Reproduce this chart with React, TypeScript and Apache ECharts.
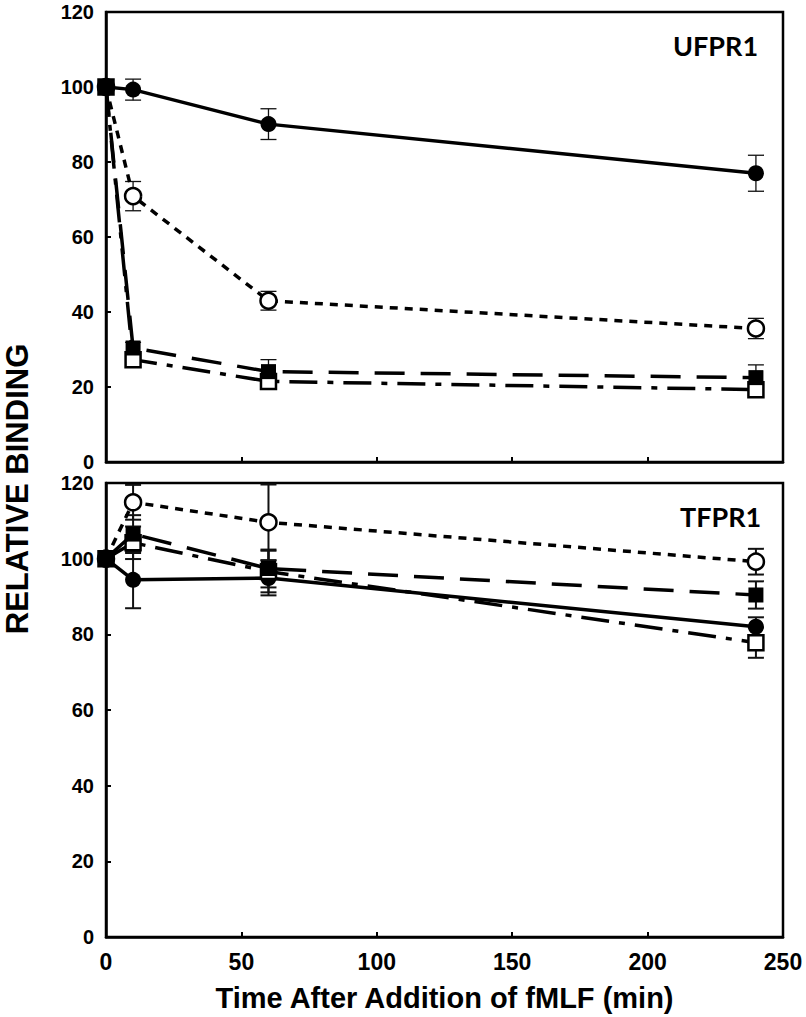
import React, { useEffect, useRef } from "react";
import * as echarts from "echarts";

const times = [0, 10, 60, 240];
const xTicks = [0, 50, 100, 150, 200, 250];
const yTicks = [0, 20, 40, 60, 80, 100, 120];

// UFPR1 panel (top)
const ufprSolid = [100, 99.3, 90.1, 77];
const ufprSolidErr = [0, 2.8, 4.1, 4.8];
const ufprDotted = [100, 70.9, 43, 35.6];
const ufprDottedErr = [0, 3.9, 2.5, 2.7];
const ufprDashed = [100, 30.4, 24.1, 22.5];
const ufprDashedErr = [0, 1.5, 3.2, 3.4];
const ufprDashDot = [100, 27.3, 21.5, 19.3];
const ufprDashDotErr = [0, 1.2, 1.5, 1.5];

// TFPR1 panel (bottom)
const tfprSolid = [100, 94.4, 94.9, 82];
const tfprSolidErr = [0, 7.5, 4.6, 2.5];
const tfprDotted = [100, 114.9, 109.6, 99.2];
const tfprDottedErr = [0, 4.6, 10, 3.4];
const tfprDashed = [100, 106.5, 97.4, 90.4];
const tfprDashedErr = [0, 5, 5, 3.6];
const tfprDashDot = [100, 104.2, 96.6, 77.8];
const tfprDashDotErr = [0, 4.3, 5.5, 4];

const FONT = "Liberation Sans, Arial, sans-serif";

type Style = {
  symbol: string;
  size: number;
  filled: boolean;
  dash: any;
  width: number;
};

const solidStyle: Style = { symbol: "circle", size: 16, filled: true, dash: "solid", width: 3.5 };
const dottedStyle: Style = { symbol: "circle", size: 16, filled: false, dash: [8, 7], width: 3.5 };
const dashedStyle: Style = { symbol: "rect", size: 15, filled: true, dash: [30, 16], width: 3.5 };
const dashDotStyle: Style = { symbol: "rect", size: 15, filled: false, dash: [28, 10, 6, 10], width: 3.5 };

function lineSeries(idx: number, vals: number[], st: Style, z: number) {
  return {
    type: "line",
    xAxisIndex: idx,
    yAxisIndex: idx,
    data: times.map((t, i) => [t, vals[i]]),
    symbol: st.symbol,
    symbolSize: st.size,
    showSymbol: true,
    clip: false,
    z,
    lineStyle: { color: "#000", width: st.width, type: st.dash },
    itemStyle: st.filled
      ? { color: "#000", borderColor: "#000", borderWidth: 0 }
      : { color: "#fff", borderColor: "#000", borderWidth: 2.5 },
    emphasis: { disabled: true },
  };
}

function errSeries(idx: number, vals: number[], errs: number[], lw: number) {
  return {
    type: "custom",
    xAxisIndex: idx,
    yAxisIndex: idx,
    z: 1,
    data: times.map((t, i) => [t, vals[i], errs[i]]),
    renderItem: (params: any, api: any) => {
      const x = api.value(0);
      const y = api.value(1);
      const e = api.value(2);
      if (!e) return null;
      const p = api.coord([x, y + e]);
      const q = api.coord([x, y - e]);
      const hw = 8;
      const style = { stroke: "#111", lineWidth: lw };
      return {
        type: "group",
        children: [
          { type: "line", shape: { x1: p[0], y1: p[1], x2: q[0], y2: q[1] }, style },
          { type: "line", shape: { x1: p[0] - hw, y1: p[1], x2: p[0] + hw, y2: p[1] }, style },
          { type: "line", shape: { x1: q[0] - hw, y1: q[1], x2: q[0] + hw, y2: q[1] }, style },
        ],
      };
    },
  };
}

function xAxis(idx: number, showLabels: boolean) {
  return {
    type: "value",
    gridIndex: idx,
    min: 0,
    max: 250,
    interval: 50,
    splitLine: { show: false },
    axisLine: { show: true, onZero: false, lineStyle: { color: "#000", width: 2.5 } },
    axisTick: { show: true, inside: true, length: 5, lineStyle: { color: "#000", width: 2 } },
    axisLabel: {
      show: showLabels,
      color: "#000",
      fontFamily: FONT,
      fontWeight: "bold",
      fontSize: 23,
      margin: 13,
      formatter: (v: number) => (xTicks.includes(v) ? String(v) : ""),
    },
    ...(showLabels
      ? {
          name: "Time After Addition of fMLF (min)",
          nameLocation: "middle",
          nameGap: 46,
          nameTextStyle: { color: "#000", fontFamily: FONT, fontWeight: "bold", fontSize: 29 },
        }
      : {}),
  };
}

function yAxis(idx: number) {
  return {
    type: "value",
    gridIndex: idx,
    min: 0,
    max: 120,
    interval: 20,
    splitLine: { show: false },
    axisLine: { show: true, onZero: false, lineStyle: { color: "#000", width: 2.5 } },
    axisTick: { show: true, inside: true, length: 5, lineStyle: { color: "#000", width: 2 } },
    axisLabel: {
      color: "#000",
      fontFamily: FONT,
      fontWeight: "bold",
      fontSize: 20,
      margin: 12,
      formatter: (v: number) => (yTicks.includes(v) ? String(v) : ""),
    },
  };
}

export default function App() {
  const ref = useRef<HTMLDivElement>(null);
  useEffect(() => {
    if (!ref.current) return;
    const chart = echarts.init(ref.current, null, { renderer: "svg" });
    chart.setOption({
      animation: false,
      backgroundColor: "#fff",
      grid: [
        { left: 106, right: 23, top: 12, height: 450, show: true, borderColor: "#000", borderWidth: 2.5, backgroundColor: "transparent" },
        { left: 106, right: 23, top: 483, height: 454, show: true, borderColor: "#000", borderWidth: 2.5, backgroundColor: "transparent" },
      ],
      xAxis: [xAxis(0, false), xAxis(1, true)],
      yAxis: [yAxis(0), yAxis(1)],
      graphic: [
        {
          type: "text",
          left: 673,
          top: 32,
          style: { text: "UFPR1", fill: "#000", font: "bold 27px Lato, sans-serif" },
        },
        {
          type: "text",
          left: 680,
          top: 503,
          style: { text: "TFPR1", fill: "#000", font: "bold 27px Lato, sans-serif" },
        },
        {
          type: "text",
          x: 17,
          y: 489,
          rotation: Math.PI / 2,
          style: {
            text: "RELATIVE BINDING",
            fill: "#000",
            font: "bold 31px Liberation Sans, Arial, sans-serif",
            lineHeight: 28,
            align: "center",
            verticalAlign: "middle",
          },
        },
      ],
      series: [
        errSeries(0, ufprSolid, ufprSolidErr, 1.3),
        errSeries(0, ufprDotted, ufprDottedErr, 1.3),
        errSeries(0, ufprDashed, ufprDashedErr, 1.3),
        errSeries(0, ufprDashDot, ufprDashDotErr, 1.3),
        lineSeries(0, ufprSolid, solidStyle, 3),
        lineSeries(0, ufprDotted, dottedStyle, 4),
        lineSeries(0, ufprDashDot, dashDotStyle, 5),
        lineSeries(0, ufprDashed, dashedStyle, 6),
        errSeries(1, tfprSolid, tfprSolidErr, 2),
        errSeries(1, tfprDotted, tfprDottedErr, 2),
        errSeries(1, tfprDashed, tfprDashedErr, 2),
        errSeries(1, tfprDashDot, tfprDashDotErr, 2),
        lineSeries(1, tfprSolid, solidStyle, 3),
        lineSeries(1, tfprDotted, dottedStyle, 4),
        lineSeries(1, tfprDashDot, dashDotStyle, 5),
        lineSeries(1, tfprDashed, dashedStyle, 6),
      ],
    });
    return () => chart.dispose();
  }, []);
  return (
    <div
      ref={ref}
      style={{ position: "fixed", left: 0, top: 0, width: 806, height: 1017, background: "#fff" }}
    />
  );
}
